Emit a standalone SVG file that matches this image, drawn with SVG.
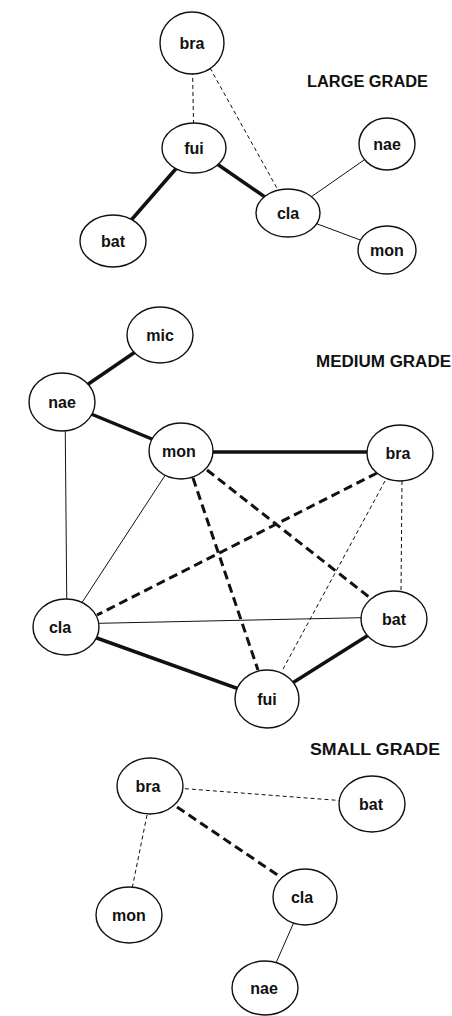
<svg xmlns="http://www.w3.org/2000/svg" width="452" height="1016" viewBox="0 0 452 1016">
  <style>
    .node ellipse { fill: #fff; stroke: #111; stroke-width: 1.4; }
    .node text { font-family: "Liberation Sans", Arial, sans-serif; font-size: 16px; font-weight: bold; fill: #111; text-anchor: middle; }
    .title { font-family: "Liberation Sans", Arial, sans-serif; font-size: 16px; font-weight: bold; fill: #111; }
    .edge line { stroke: #111; fill: none; }
    .thin { stroke-width: 1; }
    .thick { stroke-width: 3.5; }
    .thin-dash { stroke-width: 1; stroke-dasharray: 4 3; }
    .thick-dash { stroke-width: 3; stroke-dasharray: 9 5; }
  </style>
  <rect width="452" height="1016" fill="#fff"/>

  <!-- connectors -->
  <g id="connectors" class="edge">
    <!-- large grade -->
    <line class="thin-dash" x1="192" y1="43" x2="194" y2="148"/>
    <line class="thin-dash" x1="210" y1="68" x2="278" y2="190"/>
    <line class="thick" x1="194" y1="148" x2="113" y2="241"/>
    <line class="thick" x1="194" y1="148" x2="288" y2="213"/>
    <line class="thin" x1="288" y1="213" x2="387" y2="144"/>
    <line class="thin" x1="288" y1="213" x2="387" y2="250"/>
    <!-- medium grade -->
    <line class="thick" x1="160" y1="335" x2="62" y2="402"/>
    <line class="thick" x1="62" y1="402" x2="181" y2="451"/>
    <line class="thick" x1="181" y1="452" x2="400" y2="452"/>
    <line class="thin" x1="65" y1="402" x2="67" y2="627"/>
    <line class="thin" x1="181" y1="451" x2="66" y2="627"/>
    <line class="thick-dash" x1="193" y1="478" x2="258" y2="670"/>
    <line class="thick-dash" x1="207" y1="470" x2="369" y2="597"/>
    <line class="thick-dash" x1="377" y1="473" x2="97" y2="615"/>
    <line class="thin-dash" x1="385" y1="481" x2="282" y2="671"/>
    <line class="thin-dash" x1="402" y1="481" x2="401" y2="592"/>
    <line class="thin" x1="66" y1="624" x2="394" y2="617"/>
    <line class="thick" x1="66" y1="627" x2="267" y2="699"/>
    <line class="thick" x1="267" y1="699" x2="394" y2="619"/>
    <!-- small grade -->
    <line class="thin-dash" x1="150" y1="786" x2="372" y2="803"/>
    <line class="thick-dash" x1="177" y1="807" x2="282" y2="878"/>
    <line class="thin-dash" x1="147" y1="815" x2="132" y2="889"/>
    <line class="thin" x1="305" y1="897" x2="265" y2="988"/>
  </g>

  <!-- large grade -->
  <text class="title" x="307" y="87" textLength="121" lengthAdjust="spacingAndGlyphs">LARGE GRADE</text>
  <g id="large-bra" class="node"><ellipse cx="192" cy="43" rx="32" ry="31"/><text x="192" y="49">bra</text></g>
  <g id="large-fui" class="node"><ellipse cx="194" cy="148" rx="32" ry="25"/><text x="194" y="154">fui</text></g>
  <g id="large-cla" class="node"><ellipse cx="288" cy="213" rx="32" ry="24"/><text x="288" y="219">cla</text></g>
  <g id="large-nae" class="node"><ellipse cx="387" cy="144" rx="28" ry="26"/><text x="387" y="150">nae</text></g>
  <g id="large-mon" class="node"><ellipse cx="387" cy="250" rx="29" ry="24"/><text x="387" y="256">mon</text></g>
  <g id="large-bat" class="node"><ellipse cx="113" cy="241" rx="33" ry="26"/><text x="113" y="247">bat</text></g>

  <!-- medium grade -->
  <text class="title" x="316" y="367" textLength="135" lengthAdjust="spacingAndGlyphs">MEDIUM GRADE</text>
  <g id="medium-mic" class="node"><ellipse cx="160" cy="335" rx="33" ry="28"/><text x="160" y="341">mic</text></g>
  <g id="medium-nae" class="node"><ellipse cx="62" cy="402" rx="33" ry="29"/><text x="62" y="408">nae</text></g>
  <g id="medium-mon" class="node"><ellipse cx="181" cy="451" rx="32" ry="28"/><text x="179" y="457">mon</text></g>
  <g id="medium-bra" class="node"><ellipse cx="400" cy="453" rx="33" ry="28"/><text x="398" y="459">bra</text></g>
  <g id="medium-cla" class="node"><ellipse cx="66" cy="627" rx="33" ry="28"/><text x="60" y="633">cla</text></g>
  <g id="medium-bat" class="node"><ellipse cx="394" cy="619" rx="33" ry="28"/><text x="394" y="625">bat</text></g>
  <g id="medium-fui" class="node"><ellipse cx="267" cy="699" rx="32" ry="29"/><text x="267" y="705">fui</text></g>

  <!-- small grade -->
  <text class="title" x="310" y="755" textLength="130" lengthAdjust="spacingAndGlyphs">SMALL GRADE</text>
  <g id="small-bra" class="node"><ellipse cx="150" cy="786" rx="33" ry="28"/><text x="148" y="792">bra</text></g>
  <g id="small-bat" class="node"><ellipse cx="372" cy="804" rx="33" ry="28"/><text x="371" y="810">bat</text></g>
  <g id="small-cla" class="node"><ellipse cx="305" cy="897" rx="32" ry="28"/><text x="302" y="903">cla</text></g>
  <g id="small-mon" class="node"><ellipse cx="129" cy="915" rx="33" ry="28"/><text x="129" y="921">mon</text></g>
  <g id="small-nae" class="node"><ellipse cx="265" cy="988" rx="33" ry="27"/><text x="264" y="994">nae</text></g>
</svg>
